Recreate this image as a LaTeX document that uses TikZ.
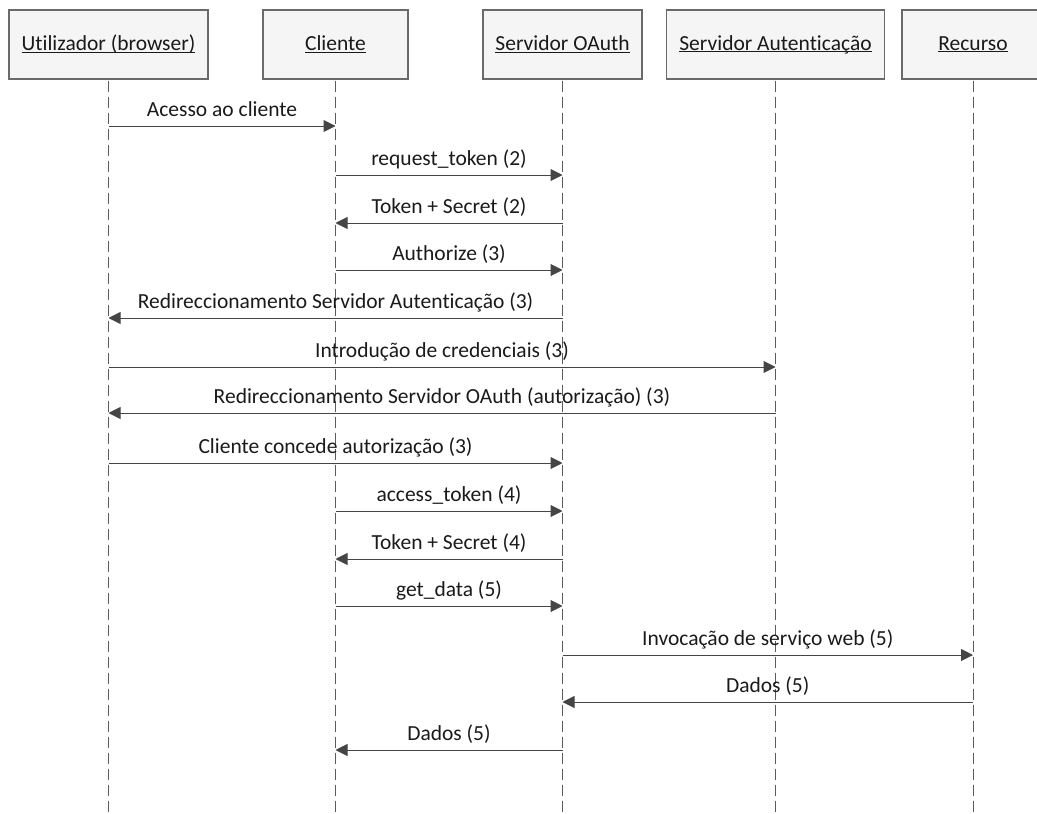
\documentclass[tikz,border=0pt]{standalone}
\usepackage{fontspec}
\setmainfont{Carlito}[Ligatures={NoCommon}]
\usetikzlibrary{arrows.meta}

\definecolor{boxfill}{HTML}{F5F5F5}
\definecolor{boxline}{HTML}{6A6A6A}
\definecolor{msgline}{HTML}{454545}
\definecolor{lifeline}{HTML}{5A5A5A}
\definecolor{ink}{HTML}{1A1A1A}

% underline sitting just under the baseline
\newcommand{\ulname}[1]{\setbox0\hbox{#1}\rlap{\rule[-2.2pt]{\wd0}{1pt}}\box0}

\begin{document}
\begin{tikzpicture}[x=1pt,y=-1pt,
  actor/.style={draw=boxline, fill=boxfill, line width=1.3pt, minimum height=69pt,
    inner sep=0pt, text=ink, font=\fontsize{21.5}{25}\selectfont},
  life/.style={draw=lifeline, line width=1pt, dash pattern=on 11pt off 5pt},
  msg/.style={draw=msgline, line width=1pt, -{Triangle[length=12pt,width=12pt]}},
  lbl/.style={anchor=base, text=ink, font=\fontsize{21.5}{25}\selectfont, inner sep=0pt}]

\useasboundingbox (0,0) rectangle (1037,814);

% participants
\begin{scope}
\clip (0,0) rectangle (1037,814);
\node[actor, minimum width=199pt] (U) at (108.5,44.5) {\ulname{Utilizador (browser)}};
\node[actor, minimum width=145pt] (C) at (335.5,44.5) {\ulname{Cliente}};
\node[actor, minimum width=159pt] (O) at (562.5,44.5) {\ulname{Servidor OAuth}};
\node[actor, minimum width=218pt] (A) at (775.5,44.5) {\ulname{Servidor Autenticação}};
\node[actor, minimum width=142pt] (R) at (973,44.5) {\ulname{Recurso}};
\end{scope}

% lifelines
\coordinate (bottom) at (0,814);
\foreach \p in {U,C,O,A,R}
  \draw[life] ([yshift=-1pt]\p.south) -- (\p.south |- bottom);

% message rows
\foreach \n/\y in {1/126,2/175,3/223,4/270,5/318,6/367,7/413,8/463,9/511,10/559,11/606,12/655,13/702,14/750}
  \coordinate (r\n) at (0,\y);

\newcommand{\seqmsg}[4]{%
  \draw[msg] (#1 |- #3) -- (#2 |- #3)
    node[lbl, pos=0.5, yshift=10pt] {#4};}

\seqmsg{U}{C}{r1}{Acesso ao cliente}
\seqmsg{C}{O}{r2}{request\_token (2)}
\seqmsg{O}{C}{r3}{Token + Secret (2)}
\seqmsg{C}{O}{r4}{Authorize (3)}
\seqmsg{O}{U}{r5}{Redireccionamento Servidor Autenticação (3)}
\seqmsg{U}{A}{r6}{Introdução de credenciais (3)}
\seqmsg{A}{U}{r7}{Redireccionamento Servidor OAuth (autorização) (3)}
\seqmsg{U}{O}{r8}{Cliente concede autorização (3)}
\seqmsg{C}{O}{r9}{access\_token (4)}
\seqmsg{O}{C}{r10}{Token + Secret (4)}
\seqmsg{C}{O}{r11}{get\_data (5)}
\seqmsg{O}{R}{r12}{Invocação de serviço web (5)}
\seqmsg{R}{O}{r13}{Dados (5)}
\seqmsg{O}{C}{r14}{Dados (5)}

\end{tikzpicture}
\end{document}
